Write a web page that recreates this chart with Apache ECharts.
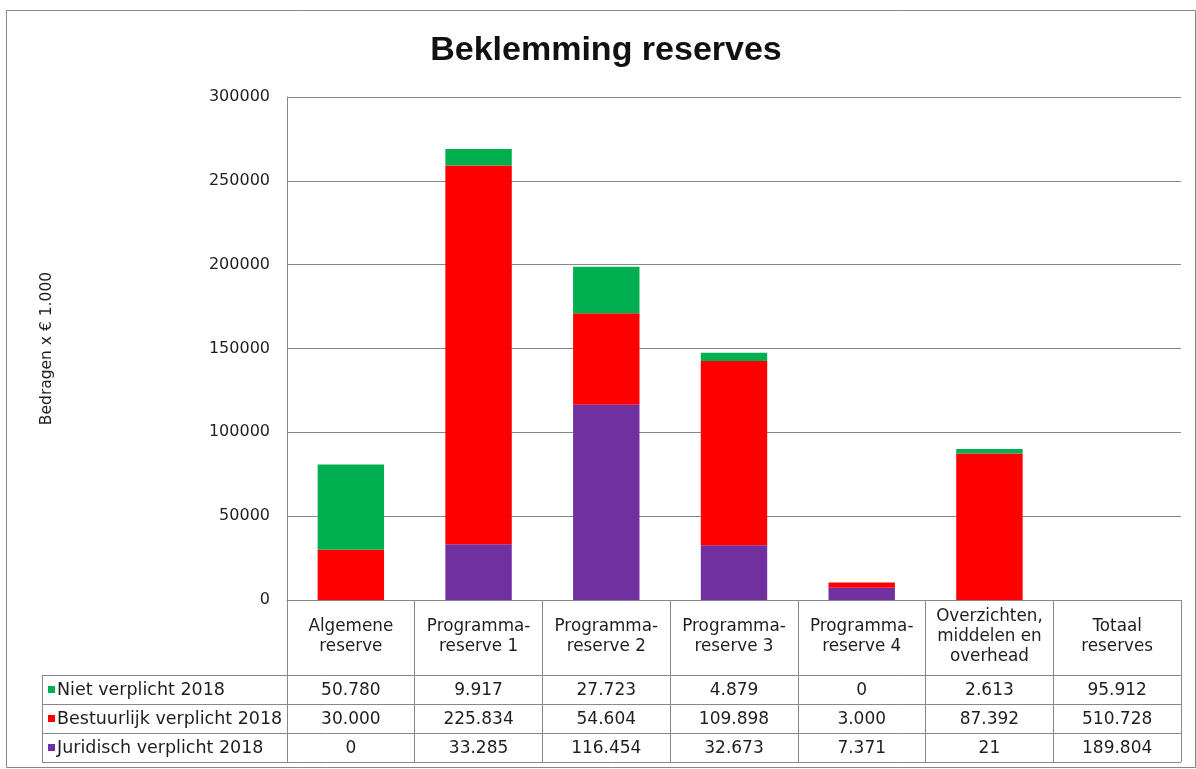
<!DOCTYPE html>
<html><head><meta charset="utf-8">
<script src="https://cdn.jsdelivr.net/npm/echarts@6/dist/echarts.min.js"></script>
<style>html,body{margin:0;padding:0;background:#fff}#c{width:1196px;height:769px}</style>
</head><body><div id="c"></div>
<script>
const categories = ['Algemene\nreserve','Programma-\nreserve 1','Programma-\nreserve 2','Programma-\nreserve 3','Programma-\nreserve 4','Overzichten,\nmiddelen en\noverhead','Totaal\nreserves'];
const seriesNames = ['Niet verplicht 2018','Bestuurlijk verplicht 2018','Juridisch verplicht 2018'];
const seriesColors = ['#00B050','#FF0000','#7030A0'];
const nietVerplicht = [50780, 9917, 27723, 4879, 0, 2613, 95912];
const bestuurlijkVerplicht = [30000, 225834, 54604, 109898, 3000, 87392, 510728];
const juridischVerplicht = [0, 33285, 116454, 32673, 7371, 21, 189804];
const plottedCount = 6; // the totals column has no bar in the reference
const yMin = 0, yMax = 300000, yInterval = 50000;

const tableRows = [nietVerplicht, bestuurlijkVerplicht, juridischVerplicht];
const FONT = '"DejaVu Sans", Verdana, sans-serif';
const TFONT = '"Liberation Sans", Arial, sans-serif';
const TXT = '#1e1e1e';
const fmt = v => String(v).replace(/\B(?=(\d{3})+(?!\d))/g, '.');
const plotted = arr => arr.map((v, i) => i < plottedCount ? v : null);

const chart = echarts.init(document.getElementById('c'), null, {renderer: 'canvas'});
const option = {
  backgroundColor: '#fff',
  animation: false,
  grid: {left: 287, right: 15, top: 97, bottom: 169, containLabel: false},
  xAxis: {
    type: 'category', data: categories,
    axisLine: {lineStyle: {color: '#888', width: 1}},
    axisTick: {show: true, length: 162, lineStyle: {color: '#888'}},
    axisLabel: {interval: 0, margin: 37, verticalAlign: 'middle', lineHeight: 20,
      fontFamily: FONT, fontSize: 16.8, color: TXT}
  },
  yAxis: {
    type: 'value', min: yMin, max: yMax, interval: yInterval,
    name: 'Bedragen x € 1.000', nameLocation: 'middle', nameGap: 232,
    nameTextStyle: {fontFamily: FONT, fontSize: 15.5, color: TXT},
    axisLine: {show: true, lineStyle: {color: '#888'}},
    axisTick: {show: false},
    splitLine: {lineStyle: {color: '#888', width: 1}},
    axisLabel: {margin: 17, fontFamily: FONT, fontSize: 16, color: TXT, formatter: v => String(v)}
  },
  series: [
    {name: seriesNames[2], type: 'bar', stack: 't', data: plotted(juridischVerplicht), itemStyle: {color: seriesColors[2]}, barCategoryGap: '48%'},
    {name: seriesNames[1], type: 'bar', stack: 't', data: plotted(bestuurlijkVerplicht), itemStyle: {color: seriesColors[1]}, barCategoryGap: '48%'},
    {name: seriesNames[0], type: 'bar', stack: 't', data: plotted(nietVerplicht), itemStyle: {color: seriesColors[0]}, barCategoryGap: '48%'}
  ]
};
chart.setOption(option);

// data table below the axis, positioned from the axis scales
const xs = categories.map((_, i) => chart.convertToPixel({xAxisIndex: 0}, i));
const bw = xs[1] - xs[0];
const zeroY = chart.convertToPixel({yAxisIndex: 0}, 0);
const gridLeft = xs[0] - bw / 2;
const tableRight = xs[xs.length - 1] + bw / 2;
const tableLeft = 42;
const headerH = 75, rowH = 29;
const elements = [];
const line = (x1, y1, x2, y2) => elements.push({type: 'line', silent: true,
  shape: {x1, y1, x2, y2}, style: {stroke: '#888', lineWidth: 1}});
for (let r = 0; r <= tableRows.length; r++) {
  const y = Math.round(zeroY + headerH + r * rowH) + 0.5;
  line(tableLeft, y, tableRight, y);
}
line(tableLeft + 0.5, Math.round(zeroY + headerH) + 0.5, tableLeft + 0.5, Math.round(zeroY + headerH + tableRows.length * rowH) + 0.5);
// outer chart border
elements.push({type: 'rect', silent: true, shape: {x: 6.5, y: 10.5, width: 1189, height: 757},
  style: {fill: 'none', stroke: '#888', lineWidth: 1}, z: -1});
// title
elements.push({type: 'text', silent: true, x: (gridLeft + tableRight) / 2 - 128, y: 34,
  style: {text: 'Beklemming reserves', font: 'bold 34px ' + TFONT, fill: '#111',
    textAlign: 'center', textVerticalAlign: 'top', align: 'center', verticalAlign: 'top'}});
tableRows.forEach((row, r) => {
  const cy = zeroY + headerH + r * rowH + rowH / 2;
  elements.push({type: 'rect', silent: true, shape: {x: 48, y: Math.round(cy - 4), width: 7, height: 7},
    style: {fill: seriesColors[r]}});
  elements.push({type: 'text', silent: true, x: 57, y: cy + 1,
    style: {text: seriesNames[r], font: '17.5px ' + FONT, fill: TXT,
      textAlign: 'left', textVerticalAlign: 'middle', align: 'left', verticalAlign: 'middle'}});
  row.forEach((v, i) => {
    elements.push({type: 'text', silent: true, x: xs[i], y: cy + 1,
      style: {text: fmt(v), font: '17px ' + FONT, fill: TXT,
        textAlign: 'center', textVerticalAlign: 'middle', align: 'center', verticalAlign: 'middle'}});
  });
});
chart.setOption({graphic: {elements}});
</script></body></html>
